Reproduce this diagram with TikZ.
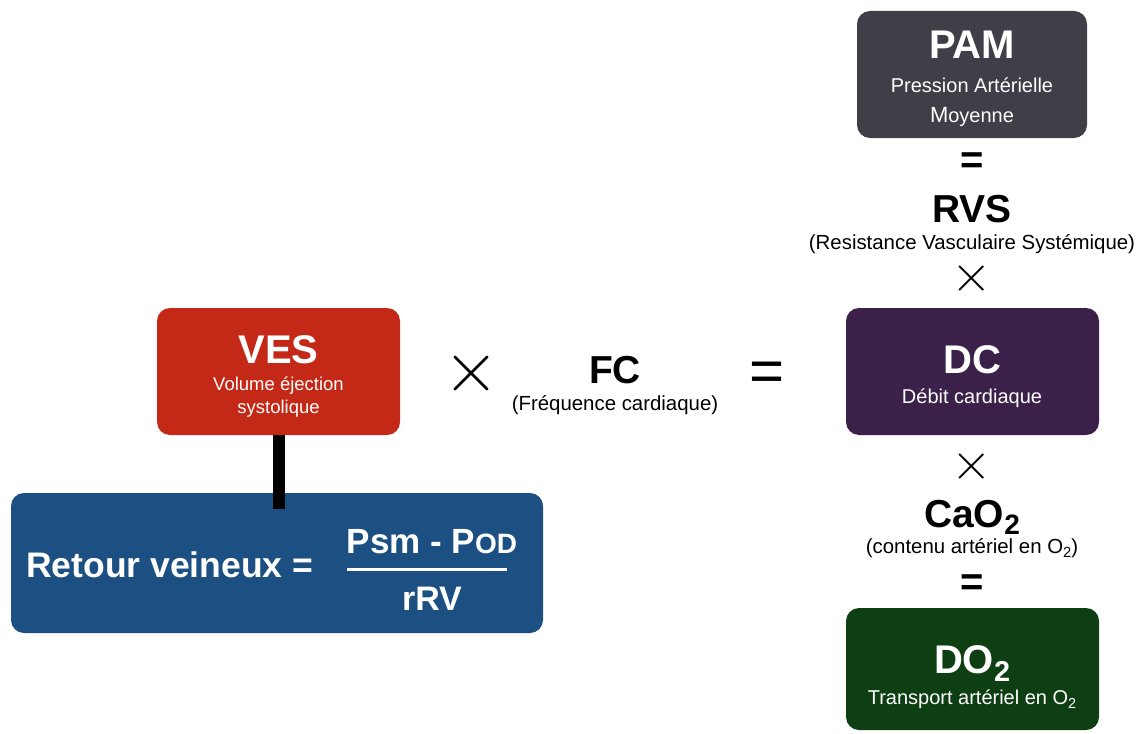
\documentclass[tikz,border=0pt]{standalone}
\usepackage{fontspec}
\setmainfont{Liberation Sans}
\newcommand\fsz[1]{\fontsize{#1}{#1}\selectfont}
\newcommand\subtwo{\raisebox{-0.2em}{\scalebox{0.72}{2}}}
\definecolor{pamc}{HTML}{3E3F47}
\definecolor{dcc}{HTML}{3B2149}
\definecolor{doc}{HTML}{0D3F12}
\definecolor{vesc}{HTML}{C42817}
\definecolor{rvc}{HTML}{1C4F82}
\begin{document}
\begin{tikzpicture}[x=1pt,y=-1pt,
  box/.style={rounded corners=13pt, inner sep=0pt},
  wtitle/.style={font=\bfseries\fsz{40}, text=white, anchor=base, inner sep=0pt},
  wsub/.style={font=\fsz{20}, text=white, anchor=base, inner sep=0pt},
  btitle/.style={font=\bfseries\fsz{39}, anchor=base, inner sep=0pt},
  bsub/.style={font=\fsz{20.4}, anchor=base, inner sep=0pt},
  bigop/.style={font=\fsz{60}, inner sep=0pt},
  opnode/.style={inner sep=0pt},
  boldeq/.style={font=\bfseries\fsz{40}, inner sep=0pt}]
\useasboundingbox (0,0) rectangle (1142,733);

% right column
\node[box, fill=pamc, minimum width=230pt, minimum height=127pt] (pam) at (972,74.5) {};
\node[wtitle] (pamt) at (972,59) {PAM};
\node[wsub] (pams1) at (972,93) {Pression Artérielle};
\node[wsub] (pams2) at (972,123) {{\fsz{22}M}oyenne};
\node[boldeq] (eq1) at (972,163) {=};
\node[btitle] (rvs) at (972,222) {RVS};
\node[bsub] (rvss) at (972,249) {(Resistance Vasculaire Systémique)};
\node[opnode] (x1) at (972,278) {\scalebox{5.2}{$\times$}};

\node[box, fill=dcc, minimum width=253pt, minimum height=127pt] (dc) at (972.5,371.5) {};
\node[wtitle] (dct) at (972,373) {DC};
\node[wsub] (dcs) at (972,403) {Débit cardiaque};
\node[opnode] (x2) at (972,466) {\scalebox{5.2}{$\times$}};
\node[btitle] (cao) at (972,527) {CaO\subtwo};
\node[bsub] (caos) at (972,553) {(contenu artériel en O\subtwo)};
\node[boldeq] (eq2) at (972,585) {=};

\node[box, fill=doc, minimum width=253pt, minimum height=122pt] (do) at (972.5,669) {};
\node[wtitle] (dot) at (972,673) {DO\subtwo};
\node[wsub] (dos) at (972,704) {Transport artériel en O\subtwo};

% left part
\node[box, fill=vesc, minimum width=243pt, minimum height=127pt] (ves) at (278.5,371.5) {};
\node[wtitle] (vest) at (278.5,363) {VES};
\node[wsub, font=\fsz{18.5}] (vess1) at (278.5,390) {Volume éjection};
\node[wsub, font=\fsz{18.5}] (vess2) at (278.5,413) {systolique};

\node[opnode] (x0) at (471,373) {\scalebox{7.2}{$\times$}};
\node[btitle] (fc) at (615,383) {FC};
\node[bsub] (fcs) at (615,410) {(Fréquence cardiaque)};
\node[bigop] (eq0) at (767,377) {=};

\node[box, fill=rvc, minimum width=532pt, minimum height=140pt] (rv) at (277,563) {};
\draw[line width=12pt] (ves.south) -- ([yshift=-16pt]ves.south |- rv.north);
\node[font=\bfseries\fsz{35.5}, text=white, anchor=base west, inner sep=0pt] (rvt) at (26,577) {Retour veineux =};
\node[font=\bfseries\fsz{35}, text=white, anchor=base, inner sep=0pt] (num) at (432,553) {Psm - P\scalebox{0.8}{OD}};
\node[font=\bfseries\fsz{34}, text=white, anchor=base, inner sep=0pt] (den) at (432,610) {rRV};
\coordinate (fl) at (347,569);
\coordinate (fr) at (507,569);
\draw[white, line width=3pt] (fl) -- (fr);
\end{tikzpicture}
\end{document}
